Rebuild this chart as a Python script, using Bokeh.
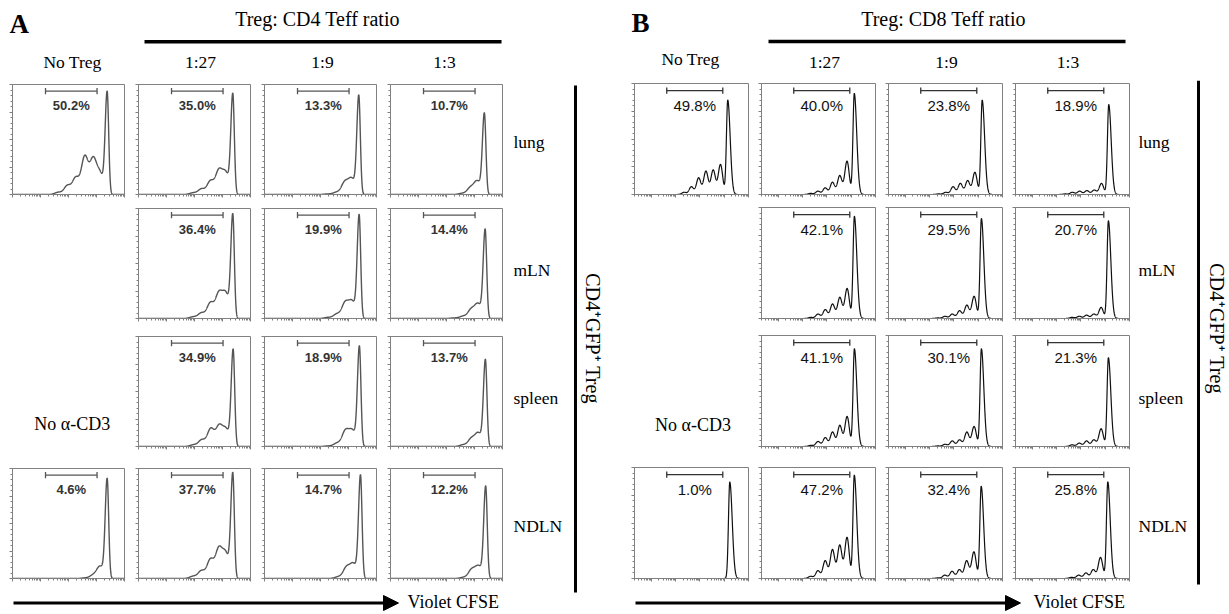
import numpy as np
from bokeh.plotting import figure
from bokeh.layouts import row, column
from bokeh.models import Range1d, Spacer, Arrow, NormalHead, SingleIntervalTicker, LogTicker
from bokeh.core.properties import value
from bokeh.embed import file_html
from bokeh.resources import INLINE

# ---------------- data ----------------
tissues = ["lung", "mLN", "spleen", "NDLN"]
ratio_labels = ["No Treg", "1:27", "1:9", "1:3"]
title_a = "Treg: CD4 Teff ratio"
title_b = "Treg: CD8 Teff ratio"
side_label = "CD4\u207aGFP\u207a Treg"
no_cd3_label = "No \u03b1-CD3"
x_label = "Violet CFSE"

# Panel A (CD4 Teff): gated % per (tissue, ratio)
a_pct = [["50.2%", "35.0%", "13.3%", "10.7%"],
         [None, "36.4%", "19.9%", "14.4%"],
         [None, "34.9%", "18.9%", "13.7%"],
         ["4.6%", "37.7%", "14.7%", "12.2%"]]
# undivided-peak intensity (Violet CFSE)
a_peak = [[24000, 23300, 23300, 22500],
          [None, 23300, 24000, 24000],
          [None, 24000, 24500, 24500],
          [24000, 23300, 26800, 25100]]
# curve height (% of max count) read at these decades left of the undivided peak
a_offsets = [0, 0.25, 0.50, 0.80, 1.12, 1.42, 1.75]
a_heights = [[[92, 18, 31, 34, 15, 8, 2], [90, 19, 21, 12, 5, 1.5, 0], [89, 14, 11, 2, 0.5, 0, 0], [73, 12, 6, 1, 0, 0, 0]],
             [None, [93, 22, 22, 14, 5, 1.5, 0], [93, 15, 14, 4, 1, 0, 0], [80, 13, 8, 2, 0.5, 0, 0]],
             [None, [87, 15, 18, 16, 6, 1.5, 0], [90, 14, 14, 3, 0.5, 0, 0], [78, 12, 7, 1.5, 0, 0, 0]],
             [[90, 11, 3, 0.5, 0, 0, 0], [94, 22, 26, 17, 7, 2, 0], [93, 13, 10, 1.5, 0, 0, 0], [83, 11, 8, 1, 0, 0, 0]]]
a_gate = [151, 10470]
a_xlim = [10, 100000]

# Panel B (CD8 Teff)
b_pct = [["49.8%", "40.0%", "23.8%", "18.9%"],
         [None, "42.1%", "29.5%", "20.7%"],
         [None, "41.1%", "30.1%", "21.3%"],
         ["1.0%", "47.2%", "32.4%", "25.8%"]]
b_peak = [[13960, 13370, 14550, 13960],
          [None, 13490, 13490, 13490],
          [None, 13490, 13490, 13490],
          [16940, 13370, 13240, 12740]]
b_offsets = [0, 0.3, 0.6, 0.9, 1.2, 1.5, 1.8]
b_heights = [[[85, 27, 22, 21, 15, 7, 2], [91, 30, 17, 11, 6, 3, 1], [85, 20, 12.5, 10, 7, 2, 0.5], [81, 10, 4, 3.5, 3, 2, 0.5]],
             [None, [92, 27, 19, 13, 8, 4, 1], [90, 20, 12, 7, 4, 2, 0.5], [88, 10, 4, 3, 2, 1, 0]],
             [None, [88, 27, 19, 13, 8, 4.5, 1], [88, 18, 13, 6, 5, 2, 0.5], [80, 16, 6, 5, 3, 1.5, 0]],
             [[87, 0, 0, 0, 0, 0, 0], [93, 37, 30, 26, 16, 7, 2], [83, 24, 16, 8, 6.5, 3, 0.5], [87, 19, 8, 5, 3, 1, 0]]]
b_gate = [42.7, 8710]
b_xlim = [2.0, 100000]

# ---------------- styles ----------------
SERIF = value("Liberation Serif")
SANS = value("Liberation Sans")
ROW_H = [124, 128, 132, 124]
FRAME_GREY = "#808080"


def canvas(w, h, x0, y0):
    p = figure(width=w, height=h, x_range=Range1d(x0, x0 + w), y_range=Range1d(y0 + h, y0),
               output_backend="svg", toolbar_location=None, min_border=0,
               x_axis_location=None, y_axis_location=None)
    p.grid.visible = False
    p.outline_line_color = None
    p.background_fill_color = "white"
    p.border_fill_color = "white"
    return p


def stext(p, x, y, t, size, align="center", baseline="middle", font=SERIF, style="normal", angle=0.0, color="black"):
    p.text(x=[x], y=[y], text=[t], text_font=font, text_font_size=size, text_align=align,
           text_baseline=baseline, text_font_style=style, angle=angle, text_color=color)


def curve(peak, offsets, heights, s_left, s_right, s_gen, xlim):
    lx = np.linspace(np.log10(xlim[0]), np.log10(xlim[1]), 900)
    c = np.log10(peak)
    d = lx - c
    y = heights[0] * np.exp(-0.5 * (d / np.where(d < 0, s_left, s_right)) ** 2)
    for off, h in zip(offsets[1:], heights[1:]):
        y = y + h * np.exp(-0.5 * ((lx - (c - off)) / s_gen) ** 2)
    return 10 ** lx, y


def make_box(cw, rh, fw, fh, top, xlim, pct, peak, heights, offsets, shape, gate, look):
    p = figure(width=cw, height=rh, x_axis_type="log",
               x_range=Range1d(xlim[0], xlim[1]), y_range=Range1d(0, 100),
               output_backend="svg", toolbar_location=None,
               min_border_left=4, min_border_right=cw - 4 - fw,
               min_border_top=top, min_border_bottom=rh - top - fh)
    p.grid.visible = False
    p.outline_line_color = FRAME_GREY
    p.outline_line_width = 1
    p.background_fill_color = "white"
    p.border_fill_color = "white"
    p.yaxis.ticker = SingleIntervalTicker(interval=25, num_minor_ticks=5)
    p.xaxis.ticker = LogTicker(num_minor_ticks=10)
    for ax in (p.xaxis[0], p.yaxis[0]):
        ax.axis_line_color = FRAME_GREY
        ax.major_tick_line_color = FRAME_GREY
        ax.minor_tick_line_color = FRAME_GREY
        ax.major_tick_out = 3
        ax.major_tick_in = 0
        ax.minor_tick_out = 2
        ax.minor_tick_in = 0
        ax.major_label_text_font_size = "1px"
        ax.major_label_text_color = None
        ax.major_label_standoff = 0
    xs, ys = curve(peak, offsets, heights, *shape, xlim)
    p.line(xs, ys, line_color=look["line"], line_width=look["lw"])
    gy = look["gate_y"]
    p.segment(x0=[gate[0]], y0=[gy], x1=[gate[1]], y1=[gy], line_color=look["gate"], line_width=1.3)
    p.segment(x0=gate, y0=[gy - 2.8, gy - 2.8], x1=gate, y1=[gy + 2.8, gy + 2.8],
              line_color=look["gate"], line_width=1.3)
    gc = float(np.sqrt(gate[0] * gate[1]))
    stext(p, gc, look["text_y"], pct, look["size"], font=SANS,
          style=look["style"], color=look["tcolor"])
    return p


def panel_grid(pct, peaks, heights, offsets, shape, xlim, gate, cw, fw, fh, top, x0, look, nocd3_xy):
    rows_out = []
    y_img = 80
    for r in range(4):
        cells = []
        for c in range(4):
            if heights[r][c] is None:
                if r == 2:
                    cv = canvas(cw, ROW_H[r], x0, y_img)
                    stext(cv, nocd3_xy[0], nocd3_xy[1], no_cd3_label, "18px")
                    cells.append(cv)
                else:
                    cells.append(Spacer(width=cw, height=ROW_H[r]))
            else:
                cells.append(make_box(cw, ROW_H[r], fw, fh, top, xlim, pct[r][c], peaks[r][c],
                                      heights[r][c], offsets, shape, gate, look))
        rows_out.append(row(*cells, spacing=0))
        y_img += ROW_H[r]
    return column(*rows_out, spacing=0)


look_a = dict(line="#555555", lw=1.4, gate="#555555", gate_y=94, text_y=81, size="13px",
              style="bold", tcolor="#333333")
look_b = dict(line="#111111", lw=1.2, gate="#333333", gate_y=93.5, text_y=80, size="15px",
              style="normal", tcolor="#111111")

grid_a = panel_grid(a_pct, a_peak, a_heights, a_offsets, (0.07, 0.055, 0.12), a_xlim, a_gate,
                    126, 112, 110, 4, 8, look_a, (71.7, 437))
grid_b = panel_grid(b_pct, b_peak, b_heights, b_offsets, (0.055, 0.10, 0.092), b_xlim, b_gate,
                    127, 114, 111, 3, 630, look_b, (692.5, 439))

# ---------------- headers ----------------
head_a = canvas(630, 80, 0, 0)
stext(head_a, 9, 23.5, "A", "27px", align="left", style="bold")
stext(head_a, 317, 18.5, title_a, "20px")
head_a.line(x=[144, 501], y=[41.3, 41.3], line_width=3.5, line_color="black")
for xc, lab in zip([72, 200, 322, 444], ratio_labels):
    stext(head_a, xc, 61.5, lab, "17.5px")

head_b = canvas(599, 80, 630, 0)
stext(head_b, 631, 22.5, "B", "27px", align="left", style="bold")
stext(head_b, 943, 18, title_b, "20px")
head_b.line(x=[768, 1125], y=[41, 41], line_width=3.5, line_color="black")
for xc, yc, lab in zip([690, 824, 946, 1067.5], [58, 61.5, 61.5, 61.5], ratio_labels):
    stext(head_b, xc, yc, lab, "17.5px")

# ---------------- side labels ----------------
row_mid = [141, 269, 397, 525]

side_a = canvas(118, 534, 512, 80)
for yc, t in zip(row_mid, tissues):
    stext(side_a, 513, yc, t, "17.5px", align="left")
side_a.line(x=[575, 575], y=[85, 592], line_width=3, line_color="black")
stext(side_a, 592, 338, side_label, "20px", angle=-np.pi / 2)

side_b = canvas(91, 534, 1138, 80)
for yc, t in zip(row_mid, tissues):
    stext(side_b, 1138, yc, t, "17.5px", align="left")
side_b.line(x=[1198, 1198], y=[80, 584], line_width=3, line_color="black")
stext(side_b, 1216, 328, side_label, "20px", angle=-np.pi / 2)

# ---------------- footers ----------------
foot_a = canvas(504, 26, 8, 588)
foot_a.add_layout(Arrow(end=NormalHead(size=15, fill_color="black", line_color="black"),
                        x_start=13, y_start=602.5, x_end=398, y_end=602.5,
                        line_width=3, line_color="black"))
stext(foot_a, 407, 601, x_label, "18px", align="left")

foot_b = canvas(508, 26, 630, 588)
foot_b.add_layout(Arrow(end=NormalHead(size=15, fill_color="black", line_color="black"),
                        x_start=635, y_start=602.5, x_end=1020, y_end=602.5,
                        line_width=3, line_color="black"))
stext(foot_b, 1033, 601, x_label, "18px", align="left")

panel_a = column(head_a,
                 row(Spacer(width=8, height=534), column(grid_a, foot_a, spacing=0), side_a, spacing=0),
                 spacing=0)
panel_b = column(head_b, row(column(grid_b, foot_b, spacing=0), side_b, spacing=0), spacing=0)
page = row(panel_a, panel_b, spacing=0)

open("out.html", "w").write(file_html(page, INLINE, title="CFSE suppression"))
